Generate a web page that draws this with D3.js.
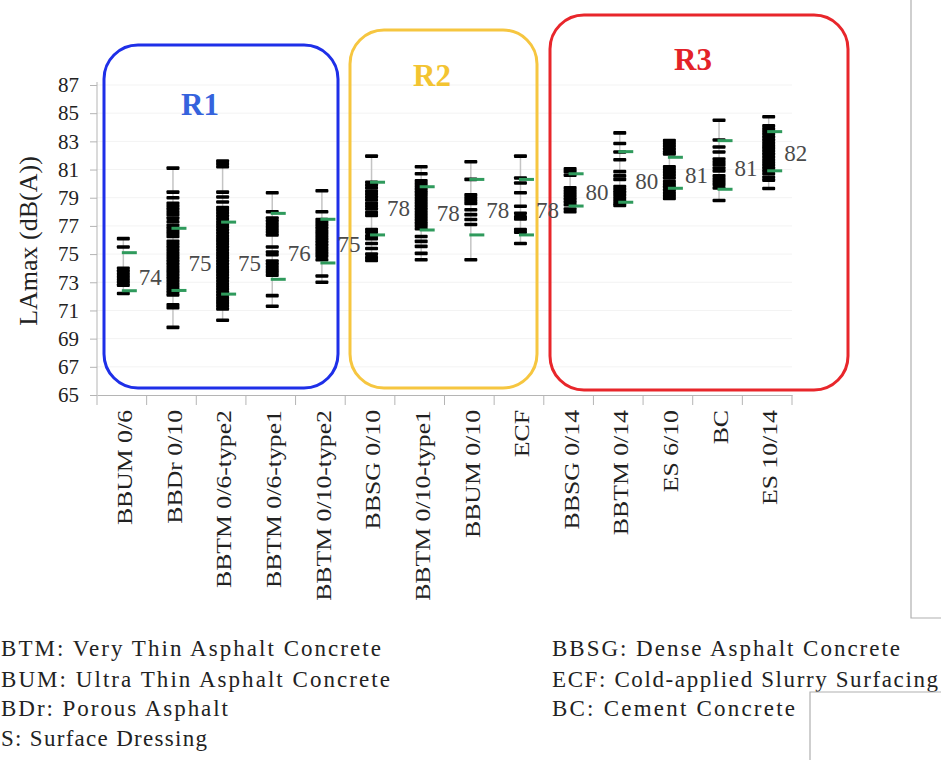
<!DOCTYPE html>
<html>
<head>
<meta charset="utf-8">
<script src="https://cdn.jsdelivr.net/npm/d3@7"></script>
<style>
  body { margin: 0; background: #fff; }
  svg { display: block; }
</style>
</head>
<body>
<div id="chart"></div>
<script>
// categories (road surfaces)
const surfaces = ["BBUM 0/6", "BBDr 0/10", "BBTM 0/6-type2", "BBTM 0/6-type1", "BBTM 0/10-type2",
  "BBSG 0/10", "BBTM 0/10-type1", "BBUM 0/10", "ECF",
  "BBSG 0/14", "BBTM 0/14", "ES 6/10", "BC", "ES 10/14"];

// individual LAmax measurements, one list per surface
const measures = [
  [76.1, 75.5, 74.0, 73.8, 73.6, 73.4, 73.2, 73.0, 72.8, 72.2],
  [81.1, 79.4, 79.0, 78.6, 78.4, 78.2, 78.0, 77.8, 77.55, 77.3, 77.05, 76.85, 76.65, 76.45, 76.25,
   75.9, 75.7, 75.5, 75.3, 75.1, 74.9, 74.7, 74.5, 74.3, 74.1, 73.9, 73.7, 73.5, 73.3, 73.1,
   72.9, 72.7, 72.5, 72.3, 72.1, 71.4, 71.2, 69.8],
  [81.6, 81.4, 81.2, 79.4, 79.05, 78.7, 78.3, 78.1, 77.9, 77.7, 77.5, 77.3, 77.1, 76.9, 76.7,
   76.5, 76.3, 76.1, 75.9, 75.7, 75.5, 75.3, 75.1, 74.9, 74.7, 74.5, 74.3, 74.1, 73.9, 73.7,
   73.5, 73.3, 73.1, 72.9, 72.7, 72.5, 72.3, 72.1, 71.9, 71.7, 71.5, 71.3, 71.1, 70.3],
  [79.35, 78.0, 77.55, 77.35, 77.15, 76.95, 76.75, 76.55, 76.35, 75.5, 75.15, 74.95,
   74.5, 74.3, 74.1, 73.9, 73.7, 73.5, 72.05, 71.3],
  [79.5, 78.0, 77.45, 77.25, 77.05, 76.85, 76.65, 76.45, 76.25, 76.05, 75.85, 75.65, 75.45,
   75.25, 75.05, 74.85, 74.6, 73.45, 73.0],
  [81.95, 80.1, 79.9, 79.7, 79.45, 79.25, 79.05, 78.85, 78.6, 78.4, 78.2, 77.95, 77.75,
   76.75, 76.55, 76.3, 76.1, 75.75, 75.4, 75.0, 74.75, 74.55],
  [81.2, 80.7, 80.2, 80.0, 79.8, 79.6, 79.4, 79.2, 79.0, 78.8, 78.6, 78.4, 78.2, 78.0, 77.8,
   77.6, 77.4, 77.2, 77.0, 76.8, 76.25, 75.9, 75.55, 75.05, 74.6],
  [81.55, 80.3, 79.2, 79.0, 78.8, 78.6, 78.15, 77.8, 77.45, 77.1, 74.6],
  [81.95, 80.4, 80.05, 79.35, 78.4, 77.9, 77.65, 77.5, 76.75, 76.55, 75.75],
  [81.05, 80.85, 80.6, 79.7, 79.5, 79.3, 79.1, 78.9, 78.7, 78.5, 78.2, 78.0],
  [83.6, 82.85, 82.25, 81.7, 80.85, 80.55, 80.3, 79.8, 79.6, 79.4, 79.2, 79.0, 78.8, 78.6, 78.45],
  [83.05, 82.85, 82.65, 82.45, 82.25, 82.1, 81.2, 81.0, 80.8, 80.6, 80.4, 80.15, 79.95,
   79.75, 79.55, 79.35, 79.15, 78.95],
  [84.5, 83.1, 82.6, 82.25, 81.75, 81.55, 81.35, 81.1, 80.9, 80.55, 80.35, 80.15, 79.95, 79.7, 78.8],
  [84.75, 84.1, 83.9, 83.7, 83.5, 83.3, 83.1, 82.9, 82.7, 82.5, 82.3, 82.1, 81.9, 81.7, 81.5,
   81.3, 81.1, 80.9, 80.7, 80.45, 80.25, 79.65]
];

// green marks (upper / lower)
const upperMark = [75.1, 76.83, 77.27, 77.89, 77.47, 80.1, 79.78, 80.3, 80.3, 80.7, 82.27, 81.87, 83.05, 83.69];
const lowerMark = [72.4, 72.42, 72.16, 73.21, 74.37, 76.36, 76.71, 76.36, 76.36, 78.41, 78.68, 79.67, 79.6, 80.91];

// mean labels and where they sit
const meanText = ["74", "75", "75", "76", "75", "78", "78", "78", "78", "80", "80", "81", "81", "82"];
const meanValue = [73.4, 74.4, 74.4, 75.1, 75.7, 78.3, 77.9, 78.1, 78.1, 79.4, 80.2, 80.6, 81.1, 82.2];

const yTicks = [65, 67, 69, 71, 73, 75, 77, 79, 81, 83, 85, 87];

const regionNames = ["R1", "R2", "R3"];
const regionColors = ["#1e2fe8", "#f6c640", "#e8262b"];
const regionText = ["#3563dd", "#f3c431", "#e32228"];

// legend rows; the left column is cropped at the page edge in the source
const legendLeft = ["BTM: Very Thin Asphalt Concrete", "BUM: Ultra Thin Asphalt Concrete",
  "BDr: Porous Asphalt", "S: Surface Dressing"];
const legendRight = ["BBSG: Dense Asphalt Concrete", "ECF: Cold-applied Slurry Surfacing",
  "BC: Cement Concrete"];

const width = 941, height = 760;
const serif = "'Liberation Serif', 'Times New Roman', serif";

const svg = d3.select("#chart").append("svg")
  .attr("width", width)
  .attr("height", height)
  .style("background", "#fff");

const x = d3.scaleBand().domain(surfaces).range([97, 792]);
const y = d3.scaleLinear().domain([65, 87]).range([395, 85]);
const cx = d => x(d) + x.bandwidth() / 2 + 1.5;

// faint grid
svg.append("g").selectAll("line").data(yTicks.slice(1)).join("line")
  .attr("x1", 97).attr("x2", 792)
  .attr("y1", d => y(d)).attr("y2", d => y(d))
  .attr("stroke", "#f3f3f3").attr("stroke-width", 1);

// y axis
const yAxis = svg.append("g")
  .attr("transform", "translate(97,0)")
  .call(d3.axisLeft(y).tickValues(yTicks).tickSize(7).tickPadding(11));
yAxis.select(".domain").attr("stroke", "#b5b5b5").attr("d", "M0,82V395");
yAxis.selectAll(".tick line").attr("stroke", "#b5b5b5");
yAxis.selectAll("text")
  .attr("font-family", serif).attr("font-size", 21).attr("fill", "#222");

// x axis
const xAxis = svg.append("g")
  .attr("transform", "translate(0,395)")
  .call(d3.axisBottom(x).tickSize(0).tickFormat(""));
xAxis.select(".domain").attr("stroke", "#b5b5b5");
xAxis.append("g").selectAll("line").data(surfaces.map(d => x(d)).concat([792])).join("line")
  .attr("x1", d => d).attr("x2", d => d)
  .attr("y1", 0).attr("y2", 10)
  .attr("stroke", "#b5b5b5");

// category names, stretched along the text like the source scan
svg.append("g").selectAll("text").data(surfaces).join("text")
  .attr("transform", d => `translate(${cx(d) + 1},410) rotate(-90) scale(1.17,1)`)
  .attr("text-anchor", "end")
  .attr("dy", "0.35em")
  .attr("font-family", serif)
  .attr("font-size", 22)
  .attr("fill", "#222")
  .text(d => d);

// axis title
svg.append("text")
  .attr("transform", "translate(28,241) rotate(-90)")
  .attr("text-anchor", "middle")
  .attr("dy", "0.35em")
  .attr("font-family", serif)
  .attr("font-size", 26)
  .attr("fill", "#222")
  .text("LAmax (dB(A))");

// region frames
const regionBoxes = [
  { x: 104, y: 45, w: 234, h: 343, lx: 200, ly: 104 },
  { x: 350, y: 30, w: 187, h: 358, lx: 432, ly: 75 },
  { x: 550, y: 15, w: 298, h: 375, lx: 693, ly: 59 }
];
svg.append("g").selectAll("rect").data(regionBoxes).join("rect")
  .attr("x", d => d.x).attr("y", d => d.y)
  .attr("width", d => d.w).attr("height", d => d.h)
  .attr("rx", 34).attr("ry", 34)
  .attr("fill", "none")
  .attr("stroke", (d, i) => regionColors[i])
  .attr("stroke-width", 3);
svg.append("g").selectAll("text").data(regionBoxes).join("text")
  .attr("x", d => d.lx).attr("y", d => d.ly)
  .attr("text-anchor", "middle")
  .attr("dy", "0.35em")
  .attr("font-family", serif)
  .attr("font-weight", "bold")
  .attr("font-size", 31)
  .attr("fill", (d, i) => regionText[i])
  .text((d, i) => regionNames[i]);

// one group per surface
const cols = svg.append("g").selectAll("g").data(surfaces).join("g")
  .attr("transform", d => `translate(${cx(d)},0)`);

// range line
cols.append("line")
  .attr("x1", 0).attr("x2", 0)
  .attr("y1", (d, i) => y(d3.max(measures[i])))
  .attr("y2", (d, i) => y(d3.min(measures[i])))
  .attr("stroke", "#c4c4c4")
  .attr("stroke-width", 1.5);

// black dashes
cols.selectAll(".m").data((d, i) => measures[i]).join("rect")
  .attr("class", "m")
  .attr("x", -6.5).attr("width", 13)
  .attr("y", v => y(v) - 1.8).attr("height", 3.6)
  .attr("rx", 1)
  .attr("fill", "#000");

// green dashes
cols.selectAll(".g").data((d, i) => [upperMark[i], lowerMark[i]]).join("rect")
  .attr("class", "g")
  .attr("x", -1.5).attr("width", 15)
  .attr("y", v => y(v) - 1.5).attr("height", 3)
  .attr("fill", "#2f9a5c");

// mean labels
cols.append("text")
  .attr("x", 27)
  .attr("y", (d, i) => y(meanValue[i]))
  .attr("text-anchor", "middle")
  .attr("dy", "0.35em")
  .attr("font-family", serif)
  .attr("font-size", 23)
  .attr("fill", "#4a4a4a")
  .text((d, i) => meanText[i]);

// legend
const legendRows = [656, 687, 716, 746];
const leftLen = [380, 389, 227, 206];
const rightLen = [348, 386, 243];
svg.append("g").selectAll("text").data(legendLeft).join("text")
  .attr("x", 1)
  .attr("y", (d, i) => legendRows[i])
  .attr("textLength", (d, i) => leftLen[i])
  .attr("lengthAdjust", "spacing")
  .attr("font-family", serif)
  .attr("font-size", 23)
  .attr("fill", "#222")
  .text(d => d);
svg.append("g").selectAll("text").data(legendRight).join("text")
  .attr("x", 552)
  .attr("y", (d, i) => legendRows[i])
  .attr("textLength", (d, i) => rightLen[i])
  .attr("lengthAdjust", "spacing")
  .attr("font-family", serif)
  .attr("font-size", 23)
  .attr("fill", "#222")
  .text(d => d);

// leftover page frame lines from the source image
svg.append("path")
  .attr("d", "M911,0V618H941")
  .attr("fill", "none").attr("stroke", "#b0b0b0").attr("stroke-width", 1.2);
svg.append("path")
  .attr("d", "M941,692H810V760")
  .attr("fill", "#fff").attr("stroke", "#b0b0b0").attr("stroke-width", 1.2);
</script>
</body>
</html>
